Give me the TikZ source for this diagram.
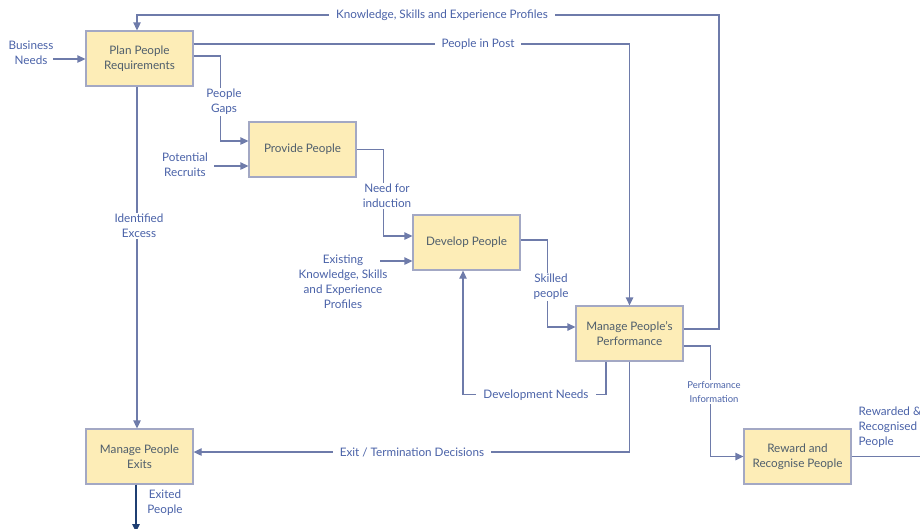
\documentclass[tikz,border=0pt]{standalone}
\usepackage{fontspec}
\setmainfont{Lato}
\usetikzlibrary{arrows.meta}
\usetikzlibrary{calc}

\definecolor{boxfill}{HTML}{FDEDB7}
\definecolor{boxline}{HTML}{A3A8C4}
\definecolor{flowline}{HTML}{6E7BAA}
\definecolor{boxtext}{HTML}{4F5E6C}
\definecolor{lbltext}{HTML}{4A62A8}
\definecolor{darkflow}{HTML}{1F3F72}

\begin{document}
\begin{tikzpicture}[x=1pt, y=-1pt,
  every node/.style={font=\fontsize{11.7}{15}\selectfont},
  proc/.style={rectangle, draw=boxline, fill=boxfill, line width=1.3pt,
    minimum width=107pt, minimum height=55pt, align=center, text=boxtext},
  lbl/.style={fill=white, inner xsep=7pt, inner ysep=1.5pt, align=center, text=lbltext},
  flow/.style={draw=flowline, line width=1.3pt, -{Triangle[length=8pt,width=7.5pt]}},
  plain/.style={draw=flowline, line width=1.3pt}]

\useasboundingbox (0,0) rectangle (920,528);
\clip (0,0) rectangle (920,528);

\node[proc] (plan) at (139.5,58.5) {Plan People\\Requirements};
\node[proc] (provide) at (302.5,149.5) {Provide People};
\node[proc] (develop) at (466.5,242.5) {Develop People};
\node[proc] (perf) at (629.5,333.5) {Manage People’s\\Performance};
\node[proc] (exits) at (139.5,456.5) {Manage People\\Exits};
\node[proc] (reward) at (797.5,456.5) {Reward and\\Recognise People};

\coordinate (bizA) at (53,59);
\coordinate (recA) at (214,166);
\coordinate (existA) at (380,261);
\coordinate (kspC) at (719,15);
\coordinate (rwdEnd) at (920,456.5);
\coordinate (exitEnd) at (136,532);

% inputs
\draw[flow] (bizA) -- (bizA -| plan.west);
\draw[flow] (recA) -- (recA -| provide.west);
\draw[flow] (existA) -- (existA -| develop.west);

% flows between boxes
\draw[flow] ([yshift=4.5pt]perf.east) -| (kspC) -| ([xshift=-2.5pt]plan.north);
\draw[flow] ([yshift=14.5pt]plan.east) -| (perf.north);
\draw[flow] ([yshift=2.5pt]plan.east) -- ++(27,0) |- ([yshift=8.5pt]provide.west);
\draw[flow] (provide.east) -- ++(27,0) |- ([yshift=6.5pt]develop.west);
\draw[flow] ([yshift=2.5pt]develop.east) -- ++(27,0) |- ([yshift=6.5pt]perf.west);
\draw[flow] ([xshift=-23.5pt]perf.south) -- ++(0,33) -| ([xshift=-3.5pt]develop.south);
\draw[flow] ([xshift=-2.5pt]plan.south) -- ([xshift=-2.5pt]exits.north);
\draw[flow] (perf.south) |- ([yshift=4.5pt]exits.east);
\draw[flow] ([yshift=-12.5pt]perf.east) -- ++(27,0) |- (reward.west);
\draw[plain] (reward.east) -- (rwdEnd);
\draw[flow, draw=darkflow, fill=darkflow] (exits.south -| exitEnd) -- (exitEnd);

% labels
\node[lbl, fill=none] (bizLbl) at (31,53) {Business\\Needs};
\node[lbl, fill=none] (recLbl) at (185,165) {Potential\\Recruits};
\node[lbl, fill=none] (existLbl) at (343,282) {Existing\\Knowledge, Skills\\and Experience\\Profiles};
\node[lbl] (kspLbl) at (442,15) {Knowledge, Skills and Experience Profiles};
\node[lbl] (postLbl) at (478,44) {People in Post};
\node[lbl] (gapsLbl) at (224,102) {People\\Gaps};
\node[lbl] (indLbl) at (387,196) {Need for\\induction};
\node[lbl] (skillLbl) at (551,287) {Skilled\\people};
\node[lbl] (devLbl) at (536,395) {Development Needs};
\node[lbl] (excessLbl) at (139,226) {Identified\\Excess};
\node[lbl] (termLbl) at (412,452) {Exit / Termination Decisions};
\node[lbl, font=\fontsize{9.5}{14}\selectfont] (perfLbl) at (714,392) {Performance\\Information};
\node[lbl, fill=none, anchor=west, align=left, inner xsep=1.5pt] (rwdLbl) at (857,427) {Rewarded \&\\Recognised\\People};
\node[lbl, fill=none] (exitLbl) at (165,503) {Exited\\People};

\end{tikzpicture}
\end{document}
